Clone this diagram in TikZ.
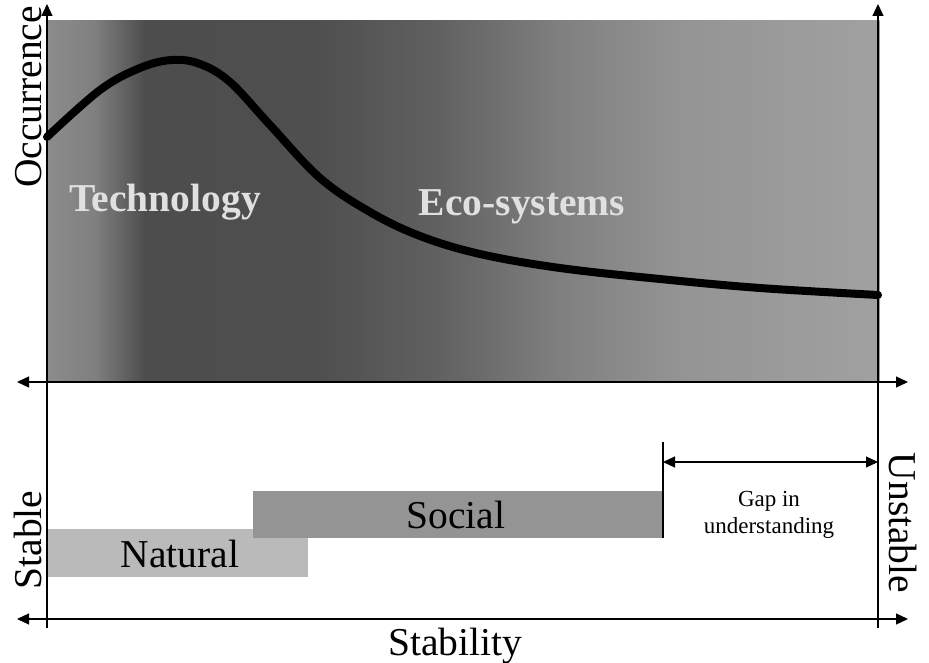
\documentclass[tikz,border=0pt]{standalone}
\usepackage{fontspec}
\setmainfont{Liberation Serif}
\usetikzlibrary{arrows.meta}
\tikzset{
  axis/.style   = {line width=1.2pt, -{Triangle[length=12pt,width=11pt]}},
  axisboth/.style = {line width=1.2pt, {Triangle[length=12pt,width=11pt]}-{Triangle[length=12pt,width=11pt]}},
  big/.style    = {font=\fontsize{39.5}{42}\selectfont, inner sep=0pt, anchor=base},
  region/.style = {font=\bfseries\fontsize{39.5}{42}\selectfont, text=black!12, inner sep=0pt, anchor=base},
  small/.style  = {font=\fontsize{23}{27}\selectfont, align=center, inner sep=0pt}
}
\begin{document}
\begin{tikzpicture}[x=1pt, y=-1pt]
\useasboundingbox (0,0) rectangle (929,663);

% shaded occurrence field
\foreach \xa/\xb/\ca/\cb in {47/95/45/50, 95/115/50/58, 115/145/58/70, 145/320/70/69,
    320/440/69/62, 440/560/62/50, 560/680/50/42, 680/879/42/37}
  \shade[left color=black!\ca, right color=black!\cb] (\xa-0.5,21) rectangle (\xb+0.5,382);

\draw[line width=8pt, line cap=round, line join=round] plot[smooth, tension=0.6] coordinates {
  (47,137) (100,90) (140,68) (172,60) (200,64) (230,82) (270,125) (320,178)
  (370,212) (420,236) (480,254) (560,268) (660,279) (760,288) (878,295)};

\node[region] (tech) at (165,212) {Technology};
\node[region] (eco) at (522,215) {Eco-systems};

% bars
\fill[black!27] (47,529) rectangle (308,577);
\fill[black!42] (253,491) rectangle (663,538);
\node[big] (natural) at (180,567) {Natural};
\node[big] (social) at (456,528) {Social};

% axes
\coordinate (lb) at (47,628);
\coordinate (lt) at (47,4);
\coordinate (rb) at (878,628);
\coordinate (rt) at (878,4);
\coordinate (ml) at (17,382);
\coordinate (mr) at (908,382);
\coordinate (bl) at (17,619);
\coordinate (br) at (908,619);
\draw[axis] (lb) -- (lt);
\draw[axis] (rb) -- (rt);
\draw[axisboth] (ml) -- (mr);
\draw[axisboth] (bl) -- (br);

% gap in understanding
\coordinate (gt) at (663,442);
\coordinate (gb) at (663,538);
\coordinate (gl) at (663,462);
\coordinate (gr) at (878,462);
\draw[line width=1.2pt] (gt) -- (gb);
\draw[axisboth] (gl) -- (gr);
\node[small] (gap) at (769,515) {Gap in\\understanding};

\node[big, rotate=90] (occ) at (41,97) {Occurrence};
\node[big, rotate=90] (stable) at (41,540) {Stable};
\node[big, rotate=-90] (unstable) at (889,523) {Unstable};
\node[big] (stability) at (455,655) {Stability};
\end{tikzpicture}
\end{document}
